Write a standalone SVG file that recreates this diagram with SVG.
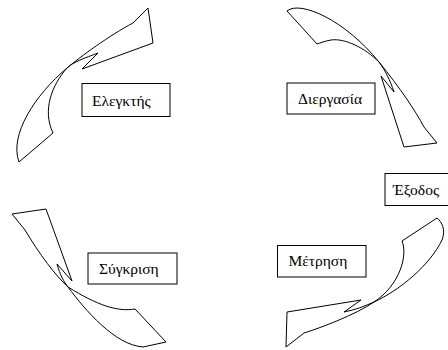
<svg xmlns="http://www.w3.org/2000/svg" width="448" height="350" viewBox="0 0 448 350">
<style>
.box{fill:#fff;stroke:#000;stroke-width:1}
.lbl{font-family:"Liberation Serif","Times New Roman",serif;font-size:15.5px;fill:#000}
.arr{fill:#fff;stroke:#000;stroke-width:1;stroke-linejoin:miter}
</style>
<rect width="448" height="350" fill="#fff"/>
<g id="connectors">
<path class="arr" d="M19,162 C9,135 35,95 67,68 C80,57 110,35 133,23 L148,8 L153,43 L82,69 L98,53 C85,58 73,62 67,68 C52,85 42,110 53,133 Z"/>
<path class="arr" d="M287,11 C300,0 345,20 379,62 C400,88 415,110 424,127 L437,143 L404,147 L381,76 L394,92 C390,80 385,70 379,62 C365,48 345,38 331,40 C325,41 320,43 317,44 Z"/>
<path class="arr" d="M12,214 L46,209 L72,281 L57,264 C60,275 64,282 68,287 C85,310 115,345 143,347 L166,342 L135,309 C117,312 97,305 68,287 C55,275 40,255 25,230 Z"/>
<path class="arr" d="M287,312 L361,300 L344,312 C355,310 365,306 374,302 C400,290 430,265 442,240 C446,230 442,222 437,218 L402,241 C408,255 400,285 374,302 C355,315 320,328 304,333 L286,347 Z"/>
</g>
<g id="n-controller"><rect class="box" x="82" y="83.5" width="88" height="33"/><text class="lbl" x="92" y="105.5">Ελεγκτής</text></g>
<g id="n-process"><rect class="box" x="287" y="83" width="88" height="31"/><text class="lbl" x="298" y="104">Διεργασία</text></g>
<g id="n-output"><rect class="box" x="385" y="173.5" width="70" height="32"/><text class="lbl" x="393" y="195">Έξοδος</text></g>
<g id="n-measure"><rect class="box" x="277.5" y="245.5" width="88.5" height="31.5"/><text class="lbl" x="288.5" y="266">Μέτρηση</text></g>
<g id="n-compare"><rect class="box" x="88" y="253" width="89" height="31"/><text class="lbl" x="99" y="273.5">Σύγκριση</text></g>
</svg>
